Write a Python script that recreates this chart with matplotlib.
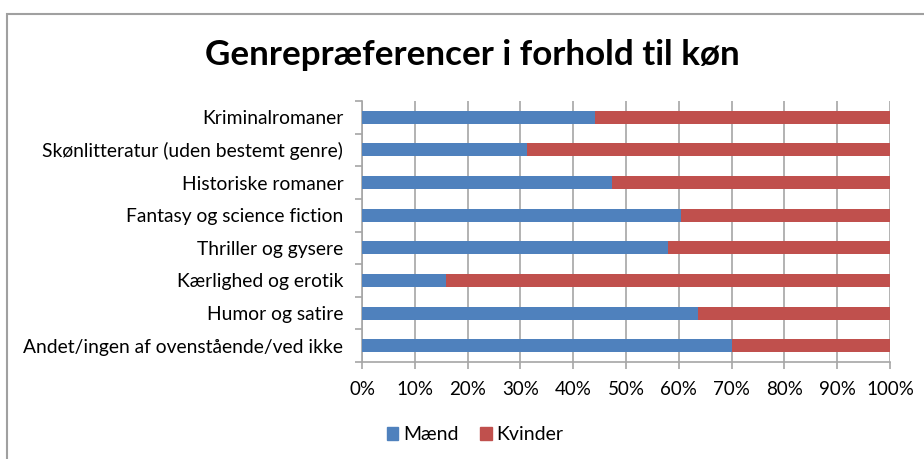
import numpy as np
import matplotlib.pyplot as plt
from matplotlib.patches import Rectangle, Patch

# ============= data =============
genres = [
    "Kriminalromaner",
    "Skønlitteratur (uden bestemt genre)",
    "Historiske romaner",
    "Fantasy og science fiction",
    "Thriller og gysere",
    "Kærlighed og erotik",
    "Humor og satire",
    "Andet/ingen af ovenstående/ved ikke",
]
maend = [44.1, 31.3, 47.4, 60.5, 57.9, 16.0, 63.7, 70.1]
kvinder = [100 - m for m in maend]
series_names = ["Mænd", "Kvinder"]
x_ticks = [0, 10, 20, 30, 40, 50, 60, 70, 80, 90, 100]

blue = "#4F81BD"
red = "#C0504D"
grid_col = "#A6A6A6"

plt.rcParams['font.family'] = ['Lato', 'DejaVu Sans']

W, H = 924, 459
fig = plt.figure(figsize=(W / 100, H / 100), dpi=100)

# chart frame (grey border, only top/left visible in the crop)
fig.patches.append(Rectangle((7.5 / W, -0.1), 1.2, (H - 13.5) / H + 0.1,
                             transform=fig.transFigure, fill=False,
                             edgecolor="#A0A0A0", linewidth=1.5))

ax = fig.add_axes([362 / W, 1 - 362 / H, (890 - 362) / W, (362 - 101) / H])

y = np.arange(len(genres))
ax.barh(y, maend, height=0.4, color=blue, zorder=3)
ax.barh(y, kvinder, left=maend, height=0.4, color=red, zorder=3)

ax.set_xlim(0, 100)
ax.set_ylim(len(genres) - 0.5, -0.5)

ax.set_xticks(x_ticks)
ax.set_xticklabels([f"{t}%" for t in x_ticks], fontsize=13.5)
ax.set_yticks(y)
ax.set_yticklabels(genres, fontsize=13.9)
ax.tick_params(axis="y", length=0, pad=13.5)
ax.tick_params(axis="x", length=5, color=grid_col, width=1.2, pad=9)
# y tick marks at the category boundaries
ax.set_yticks(np.arange(-0.5, len(genres)), minor=True)
ax.tick_params(axis="y", which="minor", length=5, color=grid_col, width=1.2)

ax.grid(axis="x", color=grid_col, linewidth=1.2, zorder=0)
for s in ["top", "right"]:
    ax.spines[s].set_visible(False)
for s in ["left", "bottom"]:
    ax.spines[s].set_color(grid_col)
    ax.spines[s].set_linewidth(1.2)

fig.text(472 / W, 1 - 55 / H, "Genrepræferencer i forhold til køn",
         ha="center", va="center", fontsize=25.2, fontweight="bold")

handles = [Patch(color=blue, label=series_names[0]),
           Patch(color=red, label=series_names[1])]
fig.legend(handles=handles, loc="center", bbox_to_anchor=(475 / W, 1 - 435 / H),
           ncol=2, frameon=False, fontsize=14, handlelength=0.6,
           handleheight=0.6, handletextpad=0.25, columnspacing=1.1)

fig.savefig("out.png", dpi=100)
